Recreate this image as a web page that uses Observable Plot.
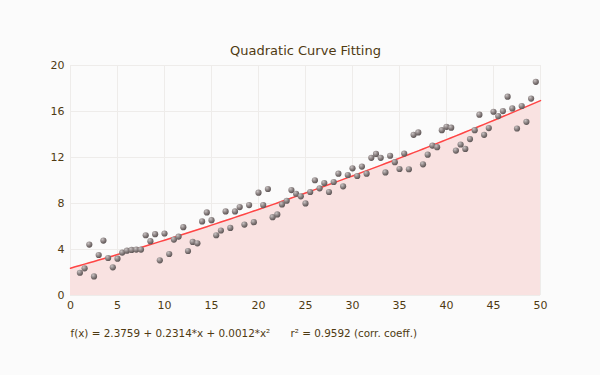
<!DOCTYPE html>
<html>
<head>
<meta charset="utf-8">
<script src="https://cdn.jsdelivr.net/npm/d3@7"></script>
<script src="https://cdn.jsdelivr.net/npm/@observablehq/plot@0.6"></script>
<style>
  html, body { margin: 0; padding: 0; background: #fbfbfb; }
  #chart { width: 600px; height: 375px; }
</style>
</head>
<body>
<div id="chart"></div>
<script>
const title = "Quadratic Curve Fitting";
const formulaText = "f(x) = 2.3759 + 0.2314*x + 0.0012*x\u00B2";
const r2Text = "r\u00B2 = 0.9592 (corr. coeff.)";

const xs = [1,1.5,2,2.5,3,3.5,4,4.5,5,5.5,6,6.5,7,7.5,8,8.5,9,9.5,10,10.5,11,11.5,12,12.5,13,13.5,14,14.5,15,15.5,16,16.5,17,17.5,18,18.5,19,19.5,20,20.5,21,21.5,22,22.5,23,23.5,24,24.5,25,25.5,26,26.5,27,27.5,28,28.5,29,29.5,30,30.5,31,31.5,32,32.5,33,33.5,34,34.5,35,35.5,36,36.5,37,37.5,38,38.5,39,39.5,40,40.5,41,41.5,42,42.5,43,43.5,44,44.5,45,45.5,46,46.5,47,47.5,48,48.5,49,49.5];
const ys = [1.98,2.36,4.43,1.66,3.52,4.78,3.26,2.45,3.2,3.73,3.9,3.96,3.99,3.99,5.24,4.72,5.33,3.06,5.39,3.61,4.86,5.12,5.94,3.87,4.66,4.54,6.44,7.22,6.55,5.24,5.65,7.31,5.88,7.31,7.69,6.17,7.86,6.38,8.94,7.86,9.26,6.81,7.05,7.92,8.24,9.17,8.85,8.62,8.01,9.0,10.02,9.32,9.78,9.0,9.87,10.59,9.49,10.48,11.06,10.39,11.21,10.59,11.97,12.31,11.97,10.7,12.15,11.59,11.0,12.34,10.98,13.97,14.18,11.41,12.25,13.04,12.9,14.38,14.67,14.59,12.6,13.13,12.75,13.6,14.38,15.72,13.97,14.56,15.98,15.6,16.04,17.29,16.27,14.52,16.48,15.1,17.12,18.58];

// fit coefficients (as printed on the chart)
const coef = [2.3759, 0.2314, 0.0012];
const xTicks = [0,5,10,15,20,25,30,35,40,45,50];
const yTicks = [0,4,8,12,16,20];

const points = xs.map((x, i) => ({x, y: ys[i]}));
const fit = d3.range(0, 50.001, 0.5).map(x => ({x, y: coef[0] + coef[1]*x + coef[2]*x*x}));

const font = "'DejaVu Sans', Verdana, sans-serif";
const textColor = "#4f3a12";

const chart = Plot.plot({
  width: 600,
  height: 375,
  marginLeft: 70,
  marginRight: 60,
  marginTop: 65,
  marginBottom: 80,
  style: {background: "#fbfbfb", fontFamily: font, fontSize: "11px", color: textColor},
  x: {domain: [0, 50], ticks: xTicks, tickSize: 0, tickPadding: 6, label: null},
  y: {domain: [0, 20], ticks: yTicks, tickSize: 0, tickPadding: 6, label: null},
  marks: [
    Plot.gridX(xTicks, {stroke: "#eeecea", strokeOpacity: 1}),
    Plot.gridY(yTicks, {stroke: "#eeecea", strokeOpacity: 1}),
    Plot.areaY(fit, {x: "x", y: "y", fill: "#f9e2e1", fillOpacity: 1}),
    Plot.line(fit, {x: "x", y: "y", stroke: "#ff4545", strokeWidth: 1.5}),
    Plot.dot(points, {x: "x", y: "y", r: 3.1, fill: "url(#ball)", stroke: "none"}),
    Plot.axisX({ticks: xTicks, tickSize: 0, tickPadding: 6, fill: textColor, fontSize: 11}),
    Plot.axisY({ticks: yTicks, tickSize: 0, tickPadding: 6, fill: textColor, fontSize: 11}),
    Plot.text([title], {frameAnchor: "top", dy: -20, text: d => d, fontSize: 13, fill: textColor}),
    Plot.text([formulaText], {frameAnchor: "bottom-left", textAnchor: "start", dy: 41, text: d => d, fontSize: 10.4, fill: textColor}),
    Plot.text([r2Text], {frameAnchor: "bottom-left", textAnchor: "start", dx: 220, dy: 41, text: d => d, fontSize: 10.4, fill: textColor})
  ]
});

const svg = d3.select(chart);
const defs = svg.insert("defs", ":first-child");
const g = defs.append("radialGradient").attr("id", "ball").attr("cx", "35%").attr("cy", "30%").attr("r", "70%");
g.append("stop").attr("offset", "0%").attr("stop-color", "#c8c2c2");
g.append("stop").attr("offset", "60%").attr("stop-color", "#857c7c");
g.append("stop").attr("offset", "100%").attr("stop-color", "#5e5656");

document.getElementById("chart").appendChild(chart);
</script>
</body>
</html>
